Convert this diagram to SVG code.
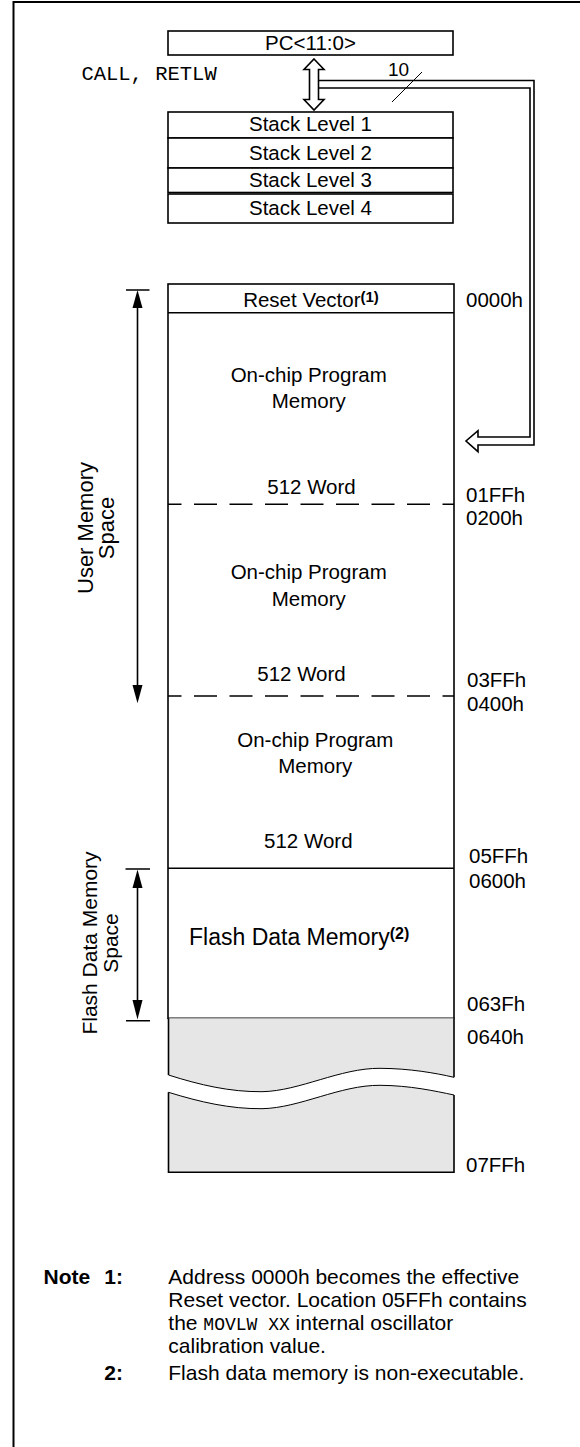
<svg xmlns="http://www.w3.org/2000/svg" width="580" height="1447" viewBox="0 0 580 1447">
<style>
 .box{fill:#fff;stroke:#000;stroke-width:1.6}
 .ln{fill:none;stroke:#000;stroke-width:1.6}
 .thin{fill:none;stroke:#000;stroke-width:1}
 .dash{fill:none;stroke:#000;stroke-width:1.6;stroke-dasharray:23 12.5;stroke-dashoffset:9.5}
 .head{fill:#000;stroke:none}
 .t{font-family:"Liberation Sans",Arial,sans-serif;font-size:20.5px;fill:#000}
 .n{font-size:21px}
 .c{text-anchor:middle}
 .m{font-family:"Liberation Mono","Courier New",monospace;font-size:20.5px}
 .b{font-weight:bold}
 .sup{font-size:15px;font-weight:bold}
 .gray{fill:#e6e6e6;stroke:none}
</style>
<path id="frame" d="M13.5,1447 V2 H580" fill="none" stroke="#000" stroke-width="2"/>

<g id="pc">
 <rect class="box" x="168" y="31" width="285" height="24"/>
 <text class="t c" x="310.5" y="49.5">PC&lt;11:0&gt;</text>
</g>
<text id="call" class="m" x="81.4" y="80">CALL, RETLW</text>

<g id="stack1"><rect class="box" x="168" y="112" width="285" height="26"/><text class="t c" x="310.5" y="131">Stack Level 1</text></g>
<g id="stack2"><rect class="box" x="168" y="138" width="285" height="30"/><text class="t c" x="310.5" y="159.5">Stack Level 2</text></g>
<g id="stack3"><rect class="box" x="168" y="168" width="285" height="24.5"/><text class="t c" x="310.5" y="187">Stack Level 3</text></g>
<g id="stack4"><rect class="box" x="168" y="194" width="285" height="29"/><text class="t c" x="310.5" y="215">Stack Level 4</text></g>

<g id="connectors">
 <polygon class="box" points="314,59 324,69.5 318.5,69.5 318.5,99.5 324,99.5 314,110 304,99.5 309.5,99.5 309.5,69.5 304,69.5"/>
 <path class="ln" d="M318.5,80.5 H534 V445 H478 V451.7 L466,441 L478,430.7 V437 H530 V88 H318.5"/>
 <line class="thin" x1="392" y1="102" x2="422" y2="72"/>
 <text class="t" x="388" y="76" style="font-size:19px">10</text>
 <path class="ln" d="M126,290 H149.5 M137.5,300 V695"/>
 <polygon class="head" points="137.5,290 132.5,308 142.5,308"/>
 <polygon class="head" points="137.5,703.3 132.5,685 142.5,685"/>
 <path class="ln" d="M125.5,869 H150 M137.5,880 V1010 M126,1020.7 H150"/>
 <polygon class="head" points="137.5,869.5 132.5,888 142.5,888"/>
 <polygon class="head" points="137.5,1019.5 132.5,1000 142.5,1000"/>
</g>

<g id="labels-left">
 <text class="t c" style="font-size:22px" transform="translate(93,528) rotate(-90)">User Memory</text>
 <text class="t c" style="font-size:22px" transform="translate(114,528) rotate(-90)">Space</text>
 <text class="t c" style="font-size:21px" transform="translate(97,943) rotate(-90)">Flash Data Memory</text>
 <text class="t c" style="font-size:21px" transform="translate(118,943) rotate(-90)">Space</text>
</g>

<g id="memory">
 <rect class="box" x="168" y="284" width="286" height="734.3"/>
 <line class="ln" x1="168" y1="312.7" x2="454" y2="312.7"/>
 <line class="dash" x1="168" y1="504.3" x2="454" y2="504.3"/>
 <line class="dash" x1="168" y1="696" x2="454" y2="696"/>
 <line class="ln" x1="168" y1="868.3" x2="454" y2="868.3"/>
</g>

<g id="reset">
 <text class="t c" x="311" y="306.7">Reset Vector<tspan class="sup" dy="-5">(1)</tspan></text>
</g>
<g id="prog1">
 <text class="t c" x="308.7" y="382.3">On-chip Program</text>
 <text class="t c" x="308.7" y="408.3">Memory</text>
 <text class="t c" x="311.5" y="494.3">512 Word</text>
</g>
<g id="prog2">
 <text class="t c" x="308.7" y="579">On-chip Program</text>
 <text class="t c" x="308.7" y="606">Memory</text>
 <text class="t c" x="301.5" y="680.7">512 Word</text>
</g>
<g id="prog3">
 <text class="t c" x="315.3" y="746.7">On-chip Program</text>
 <text class="t c" x="315.3" y="773.3">Memory</text>
 <text class="t c" x="308.3" y="848.3">512 Word</text>
</g>
<g id="flash">
 <text class="t" x="189" y="945" style="font-size:23px">Flash Data Memory<tspan class="sup" style="font-size:16px" dy="-6">(2)</tspan></text>
</g>

<g id="unimpl">
 <path class="gray" d="M168.5,1018.3 V1075 C200,1085 230,1092 262,1091.7 C300,1091 340,1068 380,1068.3 C410,1068.5 435,1073 454,1077.3 V1018.3 Z"/>
 <path class="gray" d="M168.5,1092.3 C200,1102 230,1109 262,1108.7 C300,1108 340,1085 380,1085.3 C410,1085.5 435,1091 454,1095 V1172.3 H168.5 Z"/>
 <path class="ln" d="M168.5,1018.3 V1075 M454,1018.3 V1077.3 M168.5,1092.3 V1172.3 H454 V1095"/>
 <path class="thin" d="M168.5,1075 C200,1085 230,1092 262,1091.7 C300,1091 340,1068 380,1068.3 C410,1068.5 435,1073 454,1077.3"/>
 <path class="thin" d="M168.5,1092.3 C200,1102 230,1109 262,1108.7 C300,1108 340,1085 380,1085.3 C410,1085.5 435,1091 454,1095"/>
</g>

<g id="addresses">
 <text class="t" x="466" y="306.7">0000h</text>
 <text class="t" x="466" y="501.7">01FFh</text>
 <text class="t" x="466" y="525">0200h</text>
 <text class="t" x="467" y="687.3">03FFh</text>
 <text class="t" x="467" y="710.7">0400h</text>
 <text class="t" x="469" y="862.7">05FFh</text>
 <text class="t" x="469" y="888.3">0600h</text>
 <text class="t" x="467" y="1010.7">063Fh</text>
 <text class="t" x="467" y="1044">0640h</text>
 <text class="t" x="466" y="1171.7">07FFh</text>
</g>

<g id="notes">
 <text class="t n b" x="43.6" y="1284">Note</text>
 <text class="t n b" x="104.3" y="1284">1:</text>
 <text class="t n" x="168.3" y="1284">Address 0000h becomes the effective</text>
 <text class="t n" x="168.3" y="1307">Reset vector. Location 05FFh contains</text>
 <text class="t n" x="168.3" y="1330">the <tspan class="m" style="font-size:18px">MOVLW  XX</tspan> internal oscillator</text>
 <text class="t n" x="168.3" y="1353">calibration value.</text>
 <text class="t n b" x="104.3" y="1380">2:</text>
 <text class="t n" x="168.3" y="1380">Flash data memory is non-executable.</text>
</g>
</svg>
